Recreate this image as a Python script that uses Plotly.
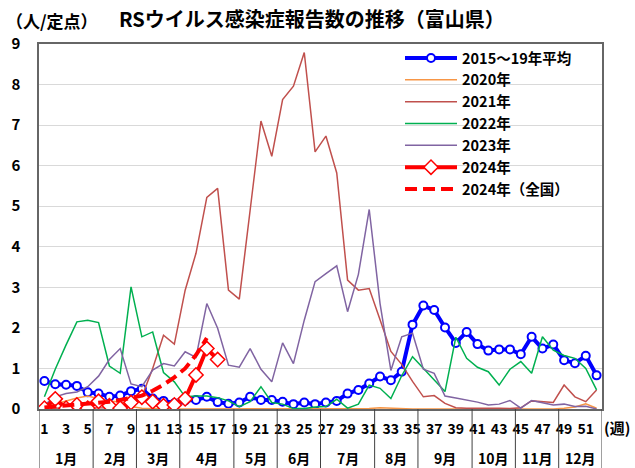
import plotly.graph_objects as go

weeks = list(range(1, 53))

avg_2015_19 = [0.69, 0.61, 0.60, 0.57, 0.41, 0.38, 0.30, 0.33, 0.44, 0.50, 0.26, 0.20, 0.14,
               0.21, 0.22, 0.30, 0.17, 0.13, 0.16, 0.30, 0.22, 0.22, 0.18, 0.12, 0.16, 0.12,
               0.16, 0.20, 0.38, 0.47, 0.63, 0.80, 0.71, 0.92, 2.08, 2.55, 2.44, 2.01, 1.63,
               1.90, 1.60, 1.44, 1.47, 1.47, 1.35, 1.78, 1.49, 1.59, 1.20, 1.13, 1.31, 0.83]
y2020 = [0.05, 0.12, 0.20, 0.27, 0.32, 0.25, 0.19, 0.18, 0.06, 0.02, 0.01, 0.00, 0.00,
         0.00, 0.00, 0.00, 0.00, 0.00, 0.00, 0.00, 0.00, 0.00, 0.00, 0.00, 0.00, 0.00,
         0.00, 0.00, 0.00, 0.00, 0.01, 0.03, 0.02, 0.00, 0.00, 0.00, 0.00, 0.00, 0.00,
         0.00, 0.00, 0.00, 0.00, 0.00, 0.00, 0.00, 0.00, 0.00, 0.02, 0.05, 0.13, 0.02]
y2021 = [0.02, 0.02, 0.03, 0.02, 0.02, 0.03, 0.03, 0.04, 0.05, 0.30, 1.00, 1.82, 1.60,
         2.93, 3.84, 5.22, 5.44, 2.93, 2.71, 4.90, 7.10, 6.23, 7.63, 7.96, 8.79, 6.34,
         6.73, 5.82, 3.18, 2.93, 2.97, 2.20, 1.42, 1.10, 0.68, 0.30, 0.33, 0.14, 0.03,
         0.02, 0.02, 0.03, 0.02, 0.01, 0.03, 0.20, 0.18, 0.16, 0.59, 0.30, 0.18, 0.47]
y2022 = [0.30, 0.98, 1.58, 2.15, 2.19, 2.13, 1.06, 0.88, 3.01, 1.78, 1.90, 0.90, 0.67,
         0.30, 0.32, 0.32, 0.28, 0.20, 0.06, 0.18, 0.55, 0.16, 0.12, 0.01, 0.01, 0.05,
         0.06, 0.24, 0.02, 0.12, 0.59, 0.51, 0.26, 0.82, 1.29, 1.00, 0.71, 0.43, 1.77,
         1.25, 1.03, 0.92, 0.59, 0.98, 1.17, 0.88, 1.78, 1.45, 1.32, 1.25, 1.00, 0.47]
y2023 = [0.10, 0.30, 0.38, 0.42, 0.55, 0.81, 1.22, 1.49, 0.62, 0.55, 0.96, 1.12, 1.06,
         1.41, 1.27, 2.60, 1.99, 1.08, 1.03, 1.49, 0.98, 0.67, 1.63, 1.12, 2.19, 3.14,
         3.34, 3.53, 2.40, 3.32, 4.92, 2.60, 0.95, 1.78, 1.87, 0.98, 0.88, 0.32, 0.27,
         0.22, 0.17, 0.10, 0.12, 0.21, 0.02, 0.21, 0.15, 0.10, 0.12, 0.06, 0.07, 0.00]
y2024 = [0.02, 0.25, 0.02, 0.10, 0.02, 0.19, 0.08, 0.02, 0.16, 0.29, 0.18, 0.08, 0.10,
         0.25, 0.84, 1.49, 1.22]
y2024_national = [0.04, 0.06, 0.08, 0.10, 0.12, 0.15, 0.18, 0.22, 0.27, 0.33, 0.45, 0.60,
                  0.78, 1.00, 1.33, 1.75]

week_ticks = list(range(1, 52, 2))
week_ticktext = [str(w) for w in week_ticks]
y_ticks = list(range(0, 10))
month_labels = ["1月", "2月", "3月", "4月", "5月", "6月", "7月", "8月", "9月", "10月", "11月", "12月"]
month_first_week = [1, 6, 10, 14, 19, 23, 27, 32, 36, 41, 45, 49]
last_week = 52

FONT = "Noto Sans CJK JP"

fig = go.Figure()
fig.add_trace(go.Scatter(x=weeks, y=avg_2015_19, name="2015～19年平均", mode="lines+markers",
                         line=dict(color="#0000FF", width=4),
                         marker=dict(symbol="circle", size=8, color="white",
                                     line=dict(color="#0000FF", width=2))))
fig.add_trace(go.Scatter(x=weeks, y=y2020, name="2020年", mode="lines",
                         line=dict(color="#F79646", width=1.5)))
fig.add_trace(go.Scatter(x=weeks, y=y2021, name="2021年", mode="lines",
                         line=dict(color="#C0504D", width=1.5)))
fig.add_trace(go.Scatter(x=weeks, y=y2022, name="2022年", mode="lines",
                         line=dict(color="#00B050", width=1.5)))
fig.add_trace(go.Scatter(x=weeks, y=y2023, name="2023年", mode="lines",
                         line=dict(color="#8064A2", width=1.5)))
fig.add_trace(go.Scatter(x=weeks[:len(y2024)], y=y2024, name="2024年", mode="lines+markers",
                         line=dict(color="#FF0000", width=4),
                         marker=dict(symbol="diamond", size=11, color="white",
                                     line=dict(color="#FF0000", width=1.5))))
fig.add_trace(go.Scatter(x=weeks[:len(y2024_national)], y=y2024_national, name="2024年（全国）",
                         mode="lines", line=dict(color="#FF0000", width=4, dash="12px,6px")))

# plot area in page pixels: x 39..602, y 44..409
PL, PT, PW, PH = 39, 44, 563, 365
W, H = 635, 468

shapes = []
bounds = [w - 0.5 for w in month_first_week] + [last_week + 0.5]
for b in bounds:
    shapes.append(dict(type="line", xref="x", yref="paper", x0=b, x1=b, y0=0, y1=-(H - PT - PH) / PH,
                       line=dict(color="#404040", width=1)))
shapes.append(dict(type="rect", xref="paper", yref="paper", x0=(387 - PL) / PW, x1=1,
                   y0=(PT + PH - 205) / PH, y1=1, fillcolor="white", line=dict(width=0),
                   layer="between"))

annotations = []
ends = month_first_week[1:] + [last_week + 1]
for lab, s, e in zip(month_labels, month_first_week, ends):
    annotations.append(dict(x=(s + e - 1) / 2, y=-49 / PH, xref="x", yref="paper",
                            text=lab, showarrow=False, yanchor="middle",
                            font=dict(size=14, family=FONT, color="black", weight="bold")))
annotations.append(dict(x=(632 - PL) / PW, y=-19 / PH, xref="paper", yref="paper",
                        text="(週)", showarrow=False, xanchor="right", yanchor="middle",
                        font=dict(size=15, family=FONT, color="black", weight="bold")))
annotations.append(dict(x=(312 - PL) / PW, y=(PT + PH - 18) / PH, xref="paper", yref="paper",
                        text="RSウイルス感染症報告数の推移（富山県）", showarrow=False,
                        yanchor="middle",
                        font=dict(size=20, family=FONT, color="black", weight="bold")))
annotations.append(dict(x=(52 - PL) / PW, y=(PT + PH - 21) / PH, xref="paper", yref="paper",
                        text="（人/定点）", showarrow=False, xanchor="center", yanchor="middle",
                        font=dict(size=17, family=FONT, color="black", weight="bold")))

fig.update_layout(
    width=W, height=H,
    margin=dict(l=PL, r=W - PL - PW, t=PT, b=H - PT - PH, pad=0),
    paper_bgcolor="white", plot_bgcolor="white",
    font=dict(family=FONT, color="black"),
    showlegend=True,
    legend=dict(x=(400 - PL) / PW, y=1 + 2 / PH, xanchor="left", yanchor="top",
                bgcolor="rgba(255,255,255,0)", itemwidth=52,
                font=dict(size=14.5, family=FONT, color="black", weight="bold")),
    xaxis=dict(range=[0.5, 52.5], tickvals=week_ticks, ticktext=week_ticktext,
               ticks="", showgrid=False, zeroline=False, showline=True, mirror=True,
               linecolor="#666666", linewidth=1.5, ticklabelstandoff=6, automargin=False,
               tickfont=dict(size=14, family=FONT, color="black", weight="bold")),
    yaxis=dict(range=[0, 9], tickvals=y_ticks, ticks="", showgrid=True,
               gridcolor="#D9D9D9", gridwidth=1, zeroline=False, showline=True,
               mirror=True, linecolor="#666666", linewidth=1.5, ticklabelstandoff=14,
               automargin=False,
               tickfont=dict(size=15, family=FONT, color="black", weight="bold")),
    shapes=shapes, annotations=annotations,
)

fig.write_html("out.html", config={"displayModeBar": False},
               post_script="document.body.style.margin='0px';")
